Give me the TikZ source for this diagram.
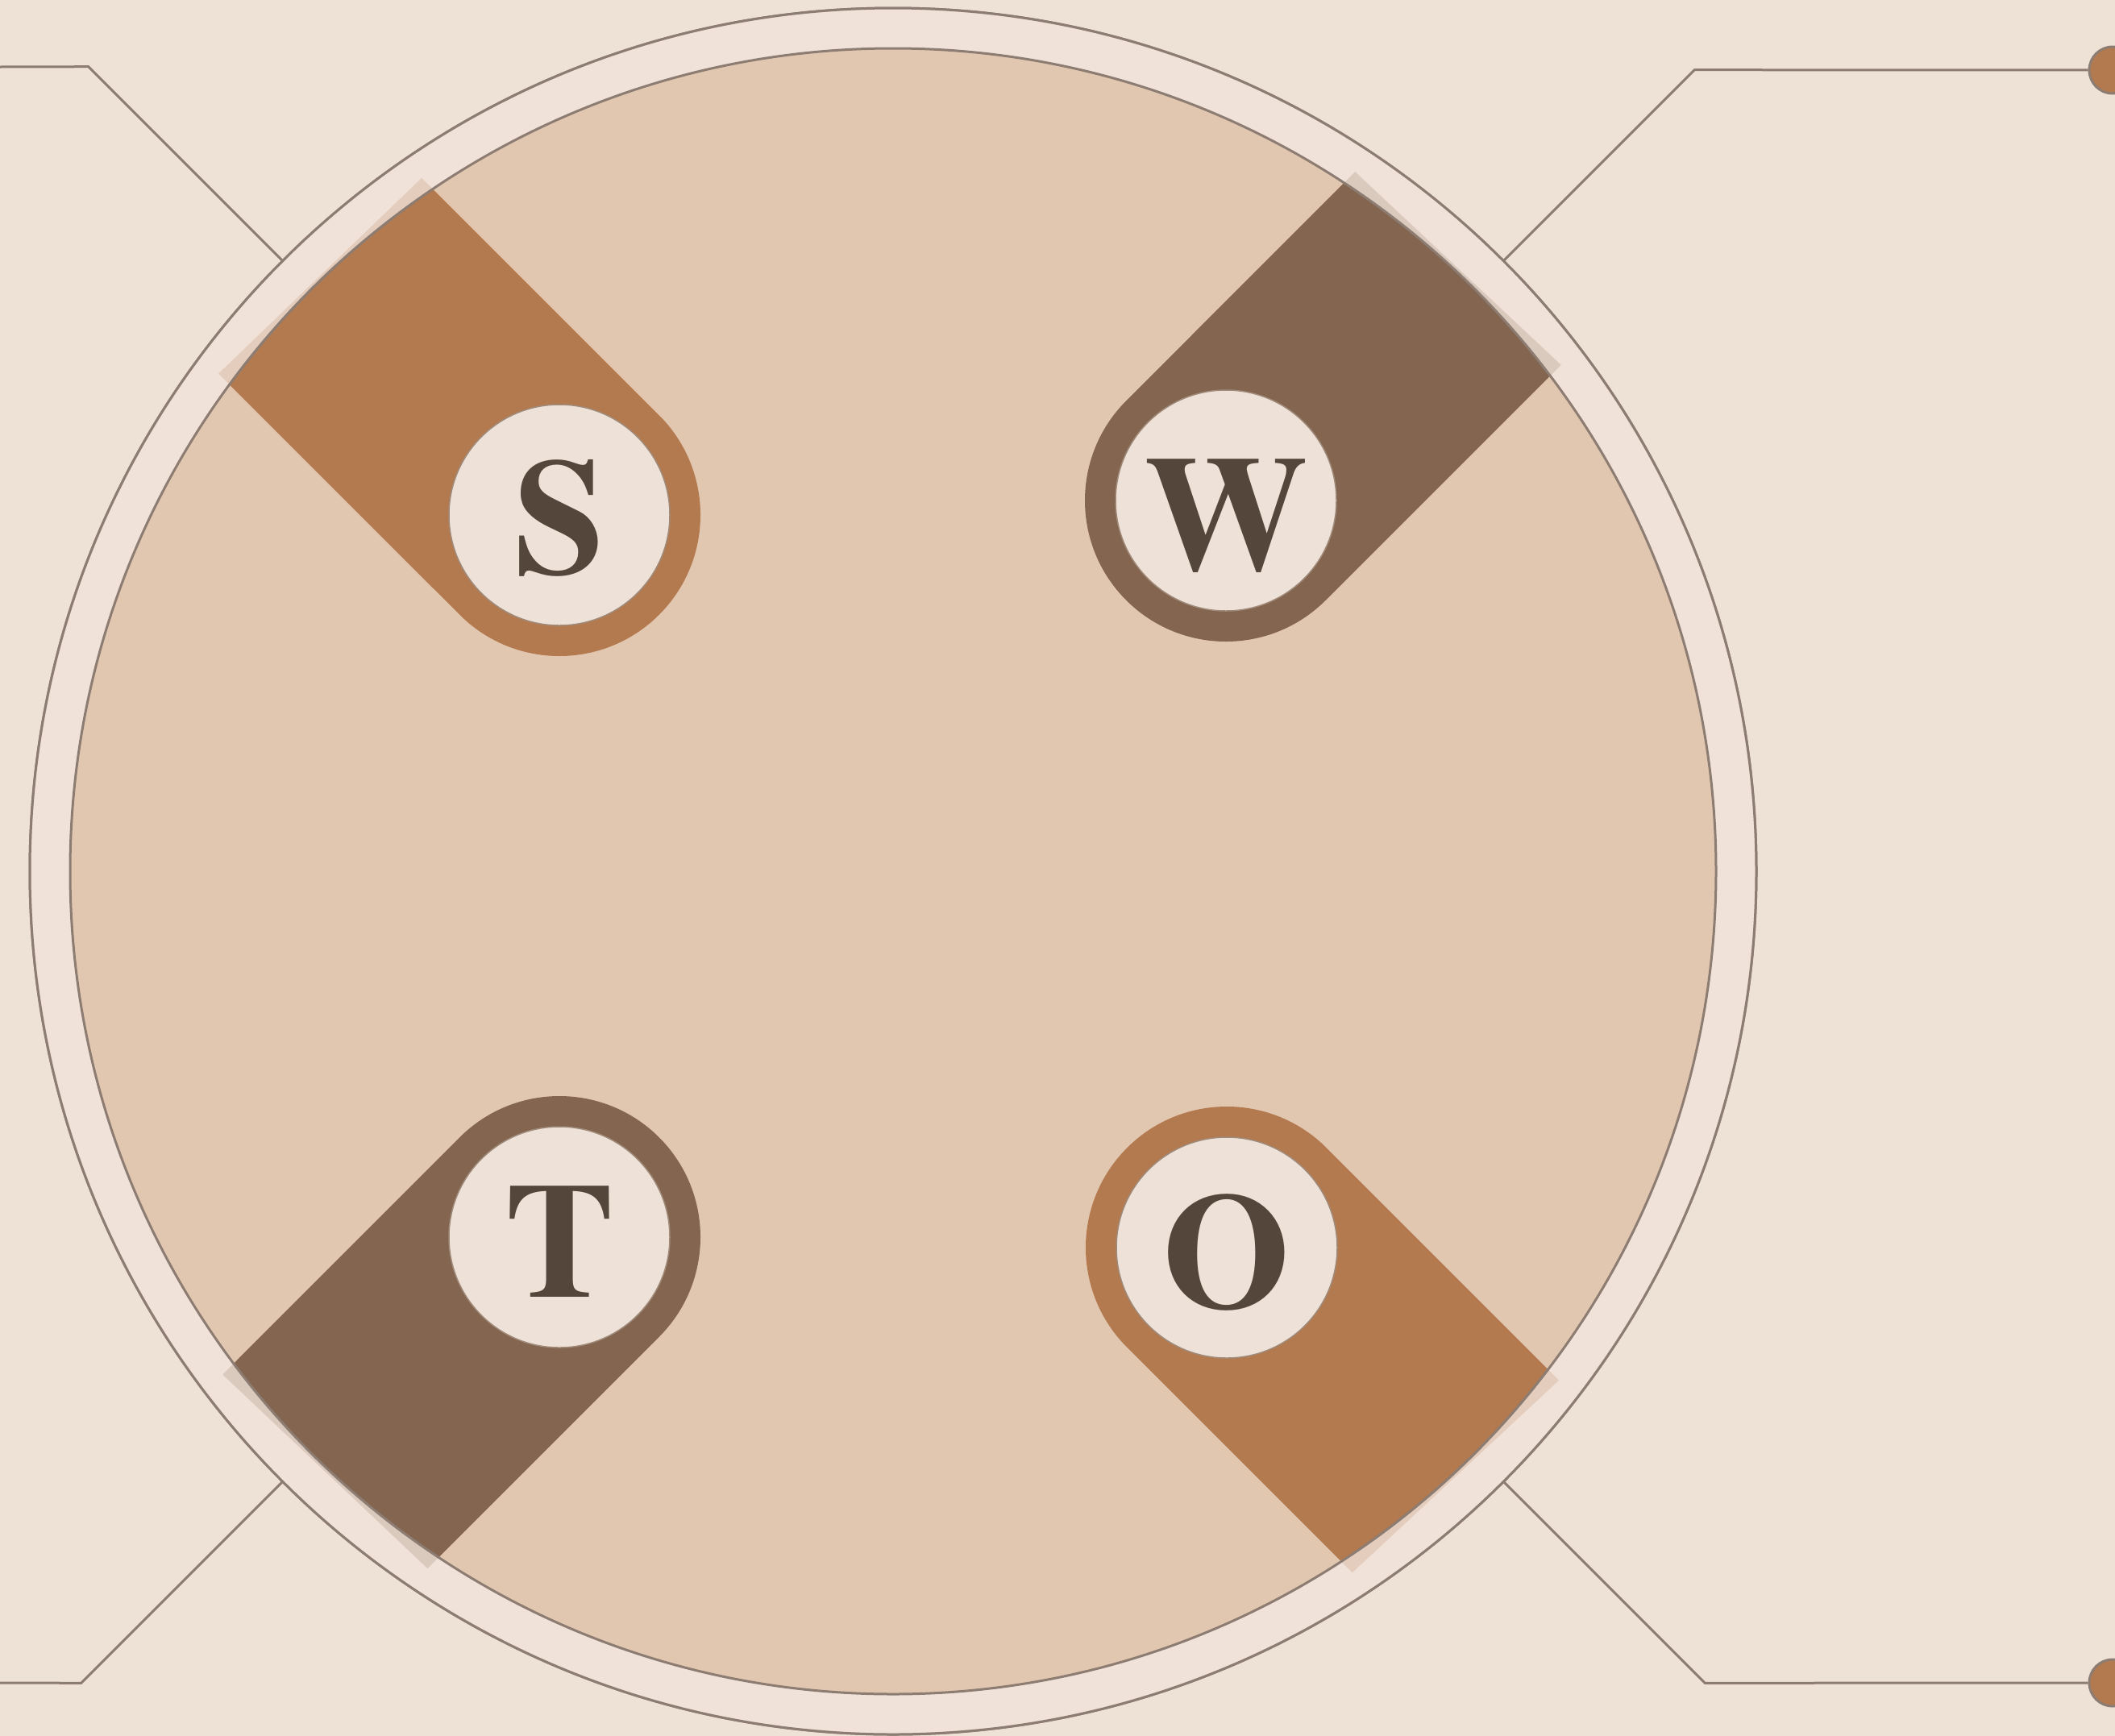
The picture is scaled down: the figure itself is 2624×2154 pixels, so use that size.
\documentclass[tikz,border=0pt]{standalone}
\usepackage{fontspec}
\setmainfont{Liberation Serif}
\newfontfamily\lettfont{texgyretermes-bold.otf}
\usetikzlibrary{calc,intersections}
\definecolor{bgc}{HTML}{EEE1D6}
\definecolor{bandc}{HTML}{F0E2D9}
\definecolor{innerc}{HTML}{E2C7B0}
\definecolor{linec}{HTML}{8C7C72}
\definecolor{tabA}{HTML}{B47A4F}
\definecolor{tabB}{HTML}{836550}
\definecolor{whitec}{HTML}{EEE2D8}
\definecolor{lettercol}{HTML}{54463A}
\definecolor{ringedge}{HTML}{A08A7A}
\begin{document}
\begin{tikzpicture}[x=0.1mm,y=-0.1mm,
  conn/.style={draw=linec, line width=0.3mm},
  ringnode/.style={circle, inner sep=0pt, outer sep=0pt, draw=linec, line width=0.3mm},
  lettercirc/.style={circle, fill=whitec, draw=ringedge, line width=0.15mm, minimum size=27.4mm, inner sep=0pt, text=lettercol, text depth=0pt, font=\lettfont\fontsize{58}{58}\selectfont},
  dotnode/.style={circle, fill=tabA, draw=linec, line width=0.3mm, minimum size=5.8mm, inner sep=0pt}]
\useasboundingbox (0,0) rectangle (2624,2154);
\fill[bgc] (0,0) rectangle (2624,2154);
\coordinate (C) at (1108,1081);
% ring and inner disc
\node[ringnode, fill=bandc, minimum size=214.2mm] (ring) at (C) {};
\node[ringnode, fill=innerc, draw=none, minimum size=204.2mm] (inner) at (C) {};
% end points
\coordinate (tl) at (0,83);
\coordinate (bl) at (0,2088);
\node[dotnode] (d1) at (2621,87) {};
\node[dotnode] (d2) at (2621,2088) {};
% connectors
\draw[conn] (ring.135) -- ++(-241,-241) -- (tl);
\draw[conn] (ring.225) -- ++(-250,250) -- (bl);
\draw[conn] (ring.45) -- ++(237,-237) -- (d1);
\draw[conn] (ring.315) -- ++(250,250) -- (d2);
% tabs
\path[name path=tabend] (C) circle[radius=1040];
\foreach \lt/\px/\py/\a/\col in {S/694/639/225/tabA, W/1521/621/315/tabB, T/694/1535/135/tabB, O/1522/1548/45/tabA} {
  \path[name path=sideone] ($(\px,\py)+(\a+90:175)$) -- ++(\a:1300);
  \path[name path=sidetwo] ($(\px,\py)+(\a-90:175)$) -- ++(\a:1300);
  \path[name intersections={of=tabend and sideone, by=Aone}];
  \path[name intersections={of=tabend and sidetwo, by=Atwo}];
  \fill[\col] ($(\px,\py)+(\a+90:175)$) -- (Aone) -- (Atwo) -- ($(\px,\py)+(\a-90:175)$) arc[start angle=\a-90, end angle=\a-270, radius=175] -- cycle;
}
% band over the tab ends
\fill[bandc, opacity=0.8, even odd rule] (C) circle[radius=1071] (C) circle[radius=1021];
\draw[linec, line width=0.3mm] (C) circle[radius=1021];
\draw[linec, line width=0.3mm] (C) circle[radius=1071];
% letters
\foreach \lt/\px/\py/\th in {S/694/639/41.5pt, W/1521/621/49pt, T/694/1535/42.5pt, O/1522/1548/42.5pt} {
  \node[lettercirc, text height=\th] (\lt) at (\px,\py) {\lt};
}
\end{tikzpicture}
\end{document}
